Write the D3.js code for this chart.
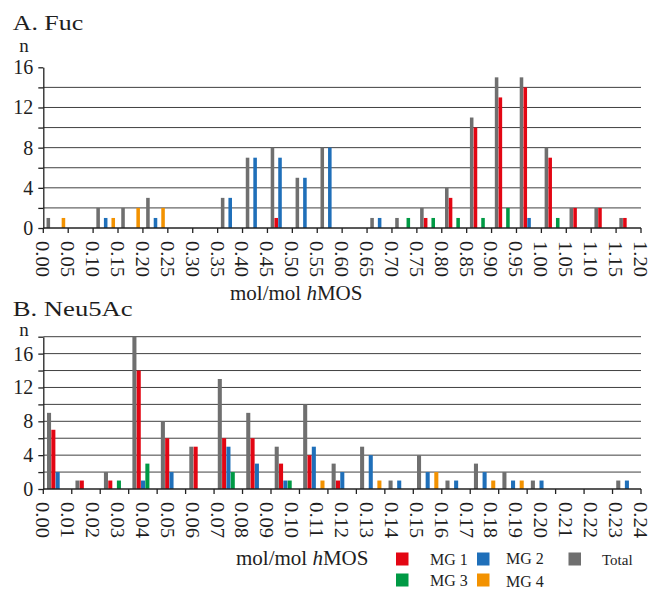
<!DOCTYPE html>
<html>
<head>
<meta charset="utf-8">
<script src="https://cdn.jsdelivr.net/npm/d3@7"></script>
<style>
  body { margin: 0; background: #fff; }
  svg { display: block; }
  text { font-family: "Liberation Serif", "Times New Roman", serif; fill: #1e1e1e; }
</style>
</head>
<body>
<svg id="chart" width="651" height="589"></svg>
<script>
// Series drawn in each bin (left to right) and their colours
const seriesNames = ["Total", "MG 1", "MG 2", "MG 3", "MG 4"];
const seriesColors = ["#6f6f6f", "#e30613", "#1f6fb9", "#009a44", "#f39200"];

// A. Fuc — counts per 0.05 bin, 0.00–1.20
const fucTickLabels = ["0.00","0.05","0.10","0.15","0.20","0.25","0.30","0.35","0.40","0.45","0.50","0.55","0.60",
                       "0.65","0.70","0.75","0.80","0.85","0.90","0.95","1.00","1.05","1.10","1.15","1.20"];
const fucTotal = [1,0,2,2,3,0,0,3,7,8,5,8,0,1,1,2,4,11,15,15,8,2,2,1];
const fucMG1   = [0,0,0,0,0,0,0,0,0,1,0,0,0,0,0,1,3,10,13,14,7,2,2,1];
const fucMG2   = [0,0,1,0,1,0,0,3,7,7,5,8,0,1,0,0,0,0,0,1,0,0,0,0];
const fucMG3   = [0,0,0,0,0,0,0,0,0,0,0,0,0,0,1,1,1,1,2,0,1,0,0,0];
const fucMG4   = [1,0,1,2,2,0,0,0,0,0,0,0,0,0,0,0,0,0,0,0,0,0,0,0];

// B. Neu5Ac — counts per bin (21 bins) with axis labels 0.00–0.24
const neuTickLabels = ["0.00","0.01","0.02","0.03","0.04","0.05","0.06","0.07","0.08","0.09","0.10","0.11","0.12",
                       "0.13","0.14","0.15","0.16","0.17","0.18","0.19","0.20","0.21","0.22","0.23","0.24"];
const neuTotal = [9,1,2,18,8,5,13,9,5,10,3,5,1,4,1,3,2,1,0,0,1];
const neuMG1   = [7,1,1,14,6,5,6,6,3,4,1,0,0,0,0,0,0,0,0,0,0];
const neuMG2   = [2,0,0,1,2,0,5,3,1,5,2,4,1,2,1,2,1,1,0,0,1];
const neuMG3   = [0,0,1,3,0,0,2,0,1,0,0,0,0,0,0,0,0,0,0,0,0];
const neuMG4   = [0,0,0,0,0,0,0,0,0,1,0,1,0,2,0,1,1,0,0,0,0];

const svg = d3.select("#chart");
const X0 = 43.3, X1 = 641;

function drawPanel(o) {
  const g = svg.append("g");
  const y = d3.scaleLinear().domain([0, o.yMax]).range([o.yBase, o.yTop]);
  const nBins = o.values[0].length;
  const band = d3.scaleBand().domain(d3.range(nBins)).range([X0, X1]);
  const bw = band.bandwidth();
  const sub = d3.scaleBand().domain(seriesNames)
    .range([bw * 0.13, bw * 0.88]).paddingInner(0.06);

  // horizontal gridlines
  g.append("g").selectAll("line")
    .data(d3.range(2, o.gridMax + 1, 2))
    .join("line")
    .attr("x1", X0).attr("x2", X1)
    .attr("y1", d => y(d)).attr("y2", d => y(d))
    .attr("stroke", "#404040").attr("stroke-width", 1);

  // bars
  seriesNames.forEach((name, si) => {
    g.append("g").attr("fill", seriesColors[si])
      .selectAll("rect")
      .data(o.values[si].map((v, i) => ({ v, i })).filter(d => d.v > 0))
      .join("rect")
      .attr("x", d => band(d.i) + sub(name))
      .attr("width", sub.bandwidth())
      .attr("y", d => y(d.v))
      .attr("height", d => y(0) - y(d.v));
  });

  // y axis
  const yAxis = d3.axisLeft(y)
    .tickValues(d3.range(0, o.yMax + 1, 2))
    .tickSize(5).tickSizeOuter(0).tickPadding(5)
    .tickFormat(d => (d % 4 === 0 ? d : ""));
  const ya = g.append("g").attr("transform", `translate(${X0},0)`).call(yAxis);
  ya.select(".domain").attr("stroke", "#222").attr("stroke-width", 1.3);
  ya.selectAll(".tick line").attr("stroke", "#222").attr("stroke-width", 1.3);
  ya.selectAll(".tick text").attr("font-size", 20);

  // x axis line with tick marks on bin boundaries
  g.append("line").attr("x1", X0).attr("x2", X1)
    .attr("y1", y(0)).attr("y2", y(0))
    .attr("stroke", "#222").attr("stroke-width", 1.3);
  g.append("g").selectAll("line")
    .data(d3.range(nBins + 1))
    .join("line")
    .attr("x1", i => X0 + i * band.step()).attr("x2", i => X0 + i * band.step())
    .attr("y1", y(0)).attr("y2", y(0) + 5)
    .attr("stroke", "#222").attr("stroke-width", 1.3);

  // rotated value labels
  const lab = d3.scalePoint().domain(o.tickLabels).range([X0, X1]);
  g.append("g").selectAll("text")
    .data(o.tickLabels)
    .join("text")
    .attr("transform", d => `translate(${lab(d) - 1},${y(0) + 13})rotate(90)`)
    .attr("dy", "0.34em")
    .attr("font-size", 18)
    .attr("textLength", 36).attr("lengthAdjust", "spacingAndGlyphs")
    .text(d => d);

  // panel title, count label and axis title
  g.append("text").attr("x", 12.7).attr("y", o.titleY)
    .attr("font-size", 22).attr("textLength", o.titleLen).attr("lengthAdjust", "spacingAndGlyphs")
    .text(o.title);
  g.append("text").attr("x", 24).attr("y", o.nY).attr("text-anchor", "middle")
    .attr("font-size", 19).text("n");
  const at = g.append("text").attr("x", o.axisTitleX).attr("y", o.axisTitleY).attr("font-size", 21);
  at.append("tspan").text("mol/mol ");
  at.append("tspan").attr("font-style", "italic").text("h");
  at.append("tspan").text("MOS");
}

drawPanel({
  title: "A. Fuc", titleY: 29.5, titleLen: 70.5, nY: 51.5,
  yMax: 16, gridMax: 14, yBase: 228, yTop: 67.3,
  values: [fucTotal, fucMG1, fucMG2, fucMG3, fucMG4],
  tickLabels: fucTickLabels,
  axisTitleX: 230, axisTitleY: 300
});

drawPanel({
  title: "B. Neu5Ac", titleY: 315.5, titleLen: 120, nY: 335.5,
  yMax: 18, gridMax: 18, yBase: 489, yTop: 336.7,
  values: [neuTotal, neuMG1, neuMG2, neuMG3, neuMG4],
  tickLabels: neuTickLabels,
  axisTitleX: 236, axisTitleY: 565
});

// legend
const legendItems = [
  { name: "MG 1", x: 396, y: 552.5, tx: 430, ty: 565, fs: 16 },
  { name: "MG 2", x: 477, y: 552.5, tx: 506, ty: 564, fs: 16 },
  { name: "Total", x: 568.5, y: 552.5, tx: 602, ty: 564.5, fs: 15 },
  { name: "MG 3", x: 396, y: 573.5, tx: 430, ty: 586, fs: 16 },
  { name: "MG 4", x: 477, y: 573.5, tx: 506, ty: 587, fs: 16 }
];
const leg = svg.append("g");
legendItems.forEach(it => {
  const si = seriesNames.indexOf(it.name);
  leg.append("rect").attr("x", it.x).attr("y", it.y).attr("width", 12.5).attr("height", 13)
    .attr("fill", seriesColors[si]);
  leg.append("text").attr("x", it.tx).attr("y", it.ty).attr("font-size", it.fs).text(it.name);
});
</script>
</body>
</html>
